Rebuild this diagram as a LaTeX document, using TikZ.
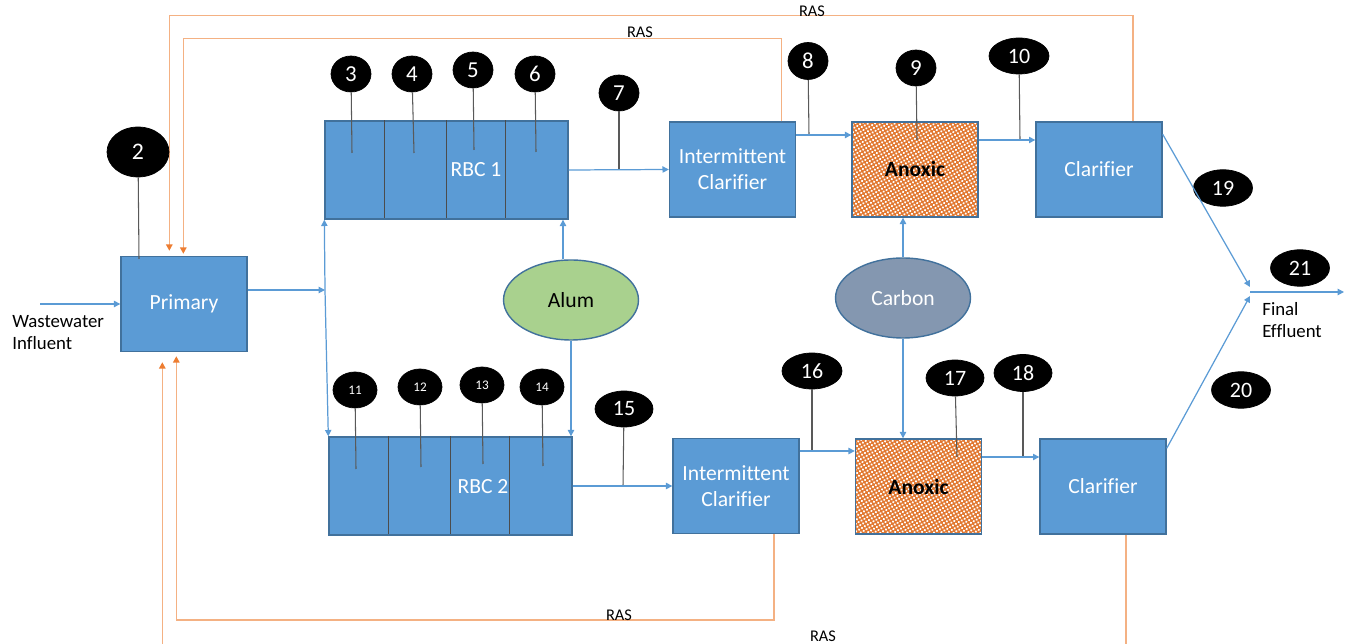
\documentclass[tikz,border=0pt]{standalone}
\usepackage{fontspec}
\setmainfont{Carlito}[Ligatures=NoCommon]
\usetikzlibrary{positioning,arrows.meta,shapes.geometric,calc,patterns.meta}
\definecolor{cajaazul}{HTML}{5B9BD5}
\definecolor{bordeazul}{HTML}{41719C}
\definecolor{lodo}{HTML}{F4B183}
\definecolor{lodofuerte}{HTML}{ED7D31}
\definecolor{alumbre}{HTML}{A9D18E}
\definecolor{carbono}{HTML}{8497B0}

\tikzset{
  caja/.style={draw=bordeazul, fill=cajaazul, line width=0.8pt, minimum width=2.52cm,
    minimum height=1.9cm, inner sep=0pt, text=white, align=center,
    font=\fontsize{12.3}{14.7}\selectfont},
  rbc/.style={caja, minimum width=4.86cm, minimum height=1.96cm},
  anox/.style={caja, text=black, font=\fontsize{12.3}{14.7}\selectfont\bfseries,
    preaction={fill=lodofuerte!95!black}, pattern={Dots[distance=1.9pt, radius=0.7pt, angle=30]},
    pattern color=white},
  tabique/.style={draw=black!70, line width=0.5pt},
  marca/.style={ellipse, draw=black, fill=black, text=white, inner sep=0pt},
  varilla/.style={draw=black!65, line width=0.6pt},
  reactivo/.style={ellipse, draw=bordeazul, line width=0.8pt, minimum width=2.7cm,
    minimum height=1.6cm, font=\fontsize{12.3}{14.7}\selectfont},
  flujo/.style={draw=cajaazul, line width=0.7pt, -{Triangle[length=3.6pt,width=3.6pt]}},
  ras/.style={draw=lodo, line width=0.9pt,
    -{Triangle[length=3.6pt,width=3.6pt,color=lodofuerte]}},
  texto/.style={font=\fontsize{10.7}{12.5}\selectfont, align=left, anchor=west, inner sep=0pt},
  rotulo/.style={font=\fontsize{9.3}{11}\selectfont, inner sep=0pt},
}

\begin{document}
\begin{tikzpicture}[x=0.02cm, y=-0.02cm]
  \path[use as bounding box] (0,0) rectangle (1348,644);
  \clip (0,0) rectangle (1348,644);

  % unidades de tratamiento
  \node[caja] (prim) at (184,304) {Primary};
  \node[rbc] (rbcA) at (446.5,170) {};
  \node[rbc] (rbcB) at (450.5,486) {};
  \foreach \d in {60,122,181} {
    \draw[tabique] (rbcA.north west) ++(\d,0) -- ++(0,98);
    \draw[tabique] (rbcB.north west) ++(\d,0) -- ++(0,98);
  }
  \node[text=white, font=\fontsize{12.3}{14.7}\selectfont] (lblA) at (476,170) {RBC 1};
  \node[text=white, font=\fontsize{12.3}{14.7}\selectfont] (lblB) at (483,487) {RBC 2};
  \node[caja] (ic1) at (732.5,169.5) {Intermittent\\Clarifier};
  \node[caja] (ic2) at (736,486) {Intermittent\\Clarifier};
  \node[anox] (an1) at (915,169.5) {Anoxic};
  \node[anox] (an2) at (918.5,486.5) {Anoxic};
  \node[caja] (cl1) at (1099,169.5) {Clarifier};
  \node[caja] (cl2) at (1103,486.5) {Clarifier};
  \node[reactivo, fill=alumbre] (alum) at (571,300) {Alum};
  \node[reactivo, fill=carbono, text=white] (carb) at (903,298) {Carbon};

  % lodo de retorno (RAS) hacia el primario
  \draw[ras] ($(cl1.north)+(34,0)$) -- ++(0,-106) -| ($(prim.north west)+(49,-5)$);
  \draw[ras] ($(ic1.north)+(49,0)$) -- ++(0,-83) -| ($(prim.north west)+(63,-2)$);
  \draw[ras] ($(ic2.south)+(38,0)$) -- ++(0,86) -| ($(prim.south west)+(56,4)$);
  \draw[ras] ($(cl2.south)+(23,0)$) -- ++(0,130) -| ($(prim.south west)+(42,10)$);
  \node[rotulo] (rasA) at (812,11) {RAS};
  \node[rotulo] (rasB) at (640,32) {RAS};
  \node[rotulo] (rasC) at (619,615) {RAS};
  \node[rotulo] (rasD) at (823,636) {RAS};

  % puntos de muestreo: numero / centro / ancho / letra / fin de la varilla
  \foreach \n/\x/\y/\w/\h/\fs/\ex/\ey in {
      2/138/152/62/50/13.5/139/259, 3/351/74/40/36/13/352/153, 4/412/74/40/36/13/414/153,
      5/473/70/40/36/13/474/150, 6/535/74/40/36/13/536/152, 7/619/93/40/36/13/619/170,
      8/808/61/40/37/13/809/135, 9/916/68/40/36/13/917/140, 10/1019/56/60/36/12.5/1020/140,
      11/355/390/44/36/7.5/356/469, 12/420/387/44/36/7.5/421/467,
      13/482/385/44/36/7.5/483/464, 14/542/387/44/36/7.5/543/466,
      15/624/409/58/36/12.5/623/486, 16/812/371/60/36/12.5/812/451,
      17/955/378/58/36/12.5/957/457, 18/1023/373/58/37/12.5/1023/457} {
    \node[marca, minimum width=\w*0.02cm, minimum height=\h*0.02cm,
          font=\fontsize{\fs}{\fs}\selectfont] (n\n) at (\x,\y) {\n};
    \coordinate (p\n) at (\ex,\ey);
    \draw[varilla] (n\n) -- (p\n);
  }
  \foreach \n/\x/\y in {19/1223/188, 20/1241/390, 21/1300/268}
    \node[marca, minimum width=1.18cm, minimum height=0.73cm,
          font=\fontsize{12.5}{12.5}\selectfont] (n\n) at (\x,\y) {\n};

  % lineas de proceso
  \coordinate (infl) at (40,304);
  \coordinate (split) at (325,290);
  \coordinate (mixA) at (1250,287);
  \coordinate (mixB) at (1250,296);
  \coordinate (mix) at (1250,292);
  \coordinate (efl) at (1344,292);
  \draw[flujo] (infl) -- (prim.west);
  \draw[flujo] (prim.east |- split) -- (split);
  \draw[flujo] (split) -- (rbcA.south west);
  \draw[flujo] (split) -- (rbcB.north west);
  \draw[flujo] (rbcA.east) -- (ic1.west);
  \draw[flujo] (ic1.east |- p8) -- (an1.west |- p8);
  \draw[flujo] (an1.east |- p10) -- (cl1.west |- p10);
  \draw[flujo] (rbcB.east) -- (ic2.west);
  \draw[flujo] (ic2.east |- p16) -- (an2.west |- p16);
  \draw[flujo] (an2.east |- p18) -- (cl2.west |- p18);
  \draw[flujo] ($(cl1.north east)+(0,13)$) -- (mixA);
  \draw[flujo] ($(cl2.north east)+(0,10)$) -- (mixB);
  \draw[flujo] (mix) -- (efl);
  \draw[flujo] ($(alum.north)+(-8,0)$) coordinate (alumA) -- (alumA |- rbcA.south);
  \draw[flujo] (alum.south) -- (alum.south |- rbcB.north);
  \draw[flujo] (carb.north) -- (carb.north |- an1.south);
  \draw[flujo] (carb.south) -- (carb.south |- an2.north);

  \node[texto] (infllbl) at (12,333) {Wastewater\\Influent};
  \node[texto] (efllbl) at (1262,320) {Final\\Effluent};
\end{tikzpicture}
\end{document}
